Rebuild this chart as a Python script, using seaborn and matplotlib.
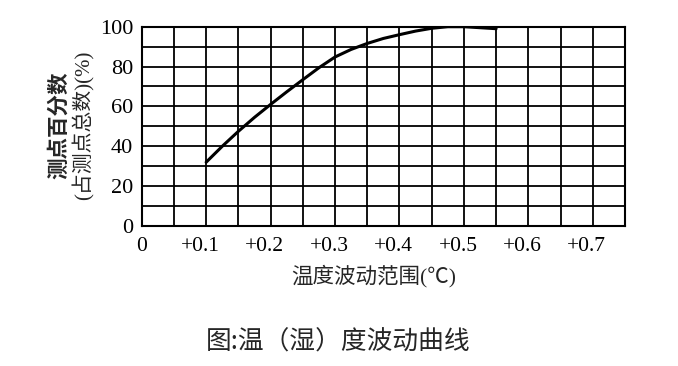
import matplotlib
matplotlib.use("Agg")
import matplotlib.pyplot as plt
import matplotlib.transforms as mtransforms
import seaborn as sns
import pandas as pd
import numpy as np

# ---- data ----
fluct_range = [0.10, 0.125, 0.15, 0.175, 0.20, 0.225, 0.25, 0.275, 0.30, 0.325,
               0.35, 0.375, 0.40, 0.425, 0.45, 0.475, 0.50, 0.525, 0.55]
pct_points = [32, 40, 47.5, 54.5, 61, 67.3, 73.4, 79.4, 84.8, 88.6,
              91.6, 94.1, 96, 97.8, 99.2, 100, 100, 99.5, 99]
x_tick_values = [0, 0.1, 0.2, 0.3, 0.4, 0.5, 0.6, 0.7]
x_tick_labels = ["0", "+0.1", "+0.2", "+0.3", "+0.4", "+0.5", "+0.6", "+0.7"]
y_tick_values = [0, 20, 40, 60, 80, 100]
x_title = "温度波动范围(℃)"
y_title_1 = "测点百分数"
y_title_2 = "(占测点总数)(%)"
caption = "图:温（湿）度波动曲线"

df = pd.DataFrame({"range": fluct_range, "pct": pct_points})

sns.set_style("white")
plt.rcParams["font.family"] = ["Liberation Serif", "Noto Sans CJK SC", "DejaVu Sans"]

fig = plt.figure(figsize=(6.78, 3.66), dpi=100)
ax = fig.add_axes([141.7 / 678, 1 - 226 / 366, (625 - 141.7) / 678, (226 - 26.7) / 366])

sns.lineplot(data=df, x="range", y="pct", ax=ax, color="black", linewidth=2.2)

ax.set_xlim(0, 0.75)
ax.set_ylim(0, 100)
ax.set_xticks(x_tick_values)
ax.set_xticklabels(x_tick_labels)
ax.set_xticks(np.arange(0.05, 0.75, 0.1), minor=True)
ax.set_yticks(y_tick_values)
ax.set_yticks(np.arange(10, 100, 20), minor=True)
ax.grid(True, which="both", color="black", linewidth=1.3)
ax.set_axisbelow(True)
ax.tick_params(axis="both", which="both", length=0, colors="black")
ax.tick_params(axis="x", pad=8, labelsize=15.5)
ax.tick_params(axis="y", pad=6, labelsize=16)
for sp in ax.spines.values():
    sp.set_visible(True)
    sp.set_color("black")
    sp.set_linewidth(1.5)

# shift the "+" labels slightly left, as in the reference
offset = mtransforms.ScaledTranslation(-6 / 100, 0, fig.dpi_scale_trans)
for lbl in ax.get_xticklabels():
    if lbl.get_text().startswith("+"):
        lbl.set_transform(lbl.get_transform() + offset)

ax.set_xlabel("")
ax.set_ylabel("")

fig.text(374 / 678, 1 - 276 / 366, x_title, ha="center", va="center", fontsize=15.5,
         family=["Liberation Serif", "Noto Sans CJK SC"])
fig.text(59 / 678, 1 - 125 / 366, y_title_1, ha="center", va="center", fontsize=15.5,
         rotation=90, fontweight="bold", family=["Noto Sans CJK SC"])
fig.text(84 / 678, 1 - 125 / 366, y_title_2, ha="center", va="center", fontsize=15,
         rotation=90, family=["Liberation Serif", "Noto Sans CJK SC"])
fig.text(338 / 678, 1 - 343 / 366, caption, ha="center", va="center", fontsize=18.5,
         family=["Noto Sans CJK SC", "Liberation Serif"])

fig.savefig("out.png", dpi=100)
